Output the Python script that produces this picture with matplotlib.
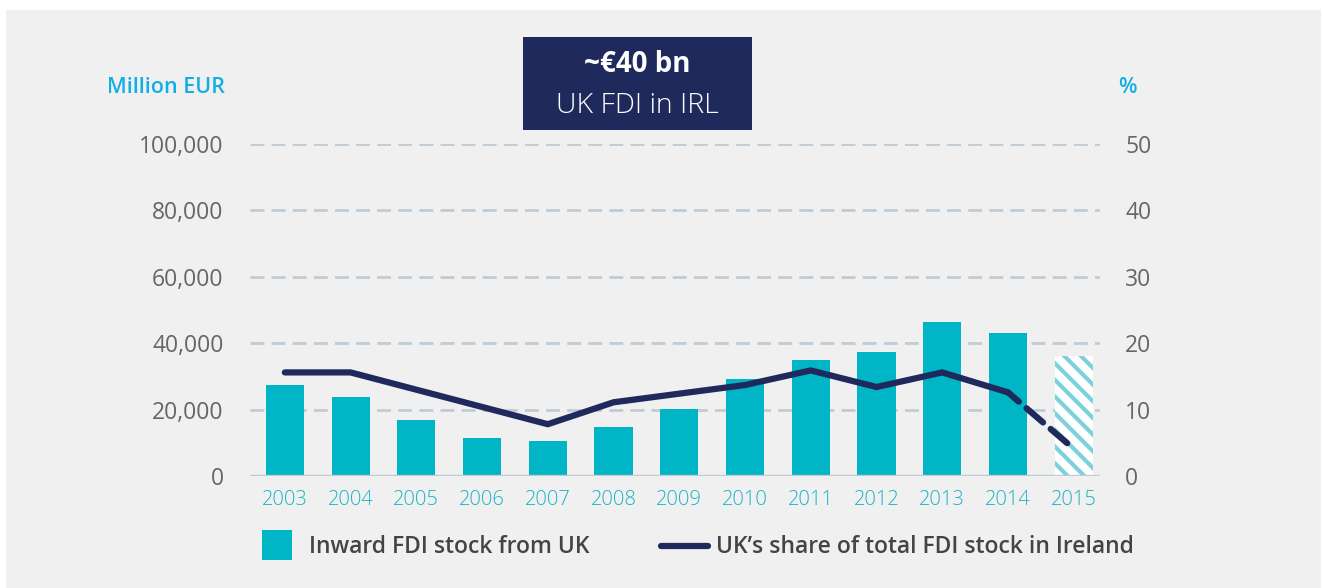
import matplotlib.pyplot as plt
import matplotlib.patches as mpatches
from matplotlib.lines import Line2D

# data
years = ['2003', '2004', '2005', '2006', '2007', '2008', '2009',
         '2010', '2011', '2012', '2013', '2014', '2015']
fdi_stock = [27400, 23800, 16900, 11400, 10500, 14800, 20200,
             29200, 34900, 37300, 46400, 43100, 36100]
uk_share = [15.6, 15.6, 13.0, 10.4, 7.8, 11.1, 12.4,
            13.7, 15.9, 13.4, 15.6, 12.6, 4.1]
left_ticks = [0, 20000, 40000, 60000, 80000, 100000]
right_ticks = [0, 10, 20, 30, 40, 50]

teal = '#00b6c6'
teal_light = '#7dd1d8'
navy = '#1f295b'
grey_txt = '#666666'
grid_col = '#bfcbd5'
blue_lbl = '#14aee6'

plt.rcParams['font.family'] = ['Open Sans', 'DejaVu Sans']
plt.rcParams['hatch.linewidth'] = 5.5

W, H = 1323, 588
fig = plt.figure(figsize=(W / 100, H / 100), dpi=100)
fig.patch.set_facecolor('white')
# grey panel behind everything
fig.patches.append(mpatches.Rectangle((6 / W, 0), 1315 / W, 578 / H,
                                      transform=fig.transFigure,
                                      facecolor='#f0f0f0', edgecolor='none',
                                      zorder=-10))

ax = fig.add_axes([250 / W, 112 / H, 850 / W, 332 / H])
ax.set_facecolor('none')
ax2 = ax.twinx()
ax2.set_facecolor('none')

x = list(range(len(years)))

# gridlines
for v in left_ticks[1:]:
    ax.axhline(v, color=grid_col, lw=2.0, linestyle=(0, (5.0, 2.6)), zorder=0)
ax.axhline(0, color=grid_col, lw=2.4, zorder=3)

# bars: last one is an estimate (hatched)
ax.bar(x[:-1], fdi_stock[:-1], width=0.58, color=teal, zorder=2)
ax.bar(x[-1], fdi_stock[-1], width=0.58, color=teal_light,
       edgecolor='white', linewidth=0, hatch='\\\\', zorder=2)

ax.set_xlim(-0.53, 12.4)
ax.set_ylim(0, 100000)
ax2.set_ylim(0, 50)

# share line, last segment dashed
ax2.plot(x[:-1], uk_share[:-1], color=navy, lw=4.5,
         solid_capstyle='round', solid_joinstyle='miter', zorder=4)
ax2.plot(x[-2:], uk_share[-2:], color=navy, lw=4.5,
         linestyle=(1.2, (3.5, 1.6)), dash_capstyle='round', zorder=4)

for a in (ax, ax2):
    for s in a.spines.values():
        s.set_visible(False)
    a.tick_params(length=0)

ax.set_xticks(x)
ax.set_xticklabels(years, color='#1ab4c8', fontsize=14.5, fontweight='light')
ax.tick_params(axis='x', pad=10)
ax.set_yticks(left_ticks)
ax.set_yticklabels([f'{v:,}' for v in left_ticks], color=grey_txt,
                   fontsize=16.5)
ax.tick_params(axis='y', pad=19)
ax2.set_yticks(right_ticks)
ax2.set_yticklabels([str(v) for v in right_ticks], color=grey_txt,
                    fontsize=16.5)
ax2.tick_params(axis='y', pad=18)

# axis unit labels
fig.text(225 / W, 1 - 88 / H, 'Million EUR', color=blue_lbl,
         fontsize=15.5, fontweight='semibold', ha='right', va='center')
fig.text(1118 / W, 1 - 88 / H, '%', color=blue_lbl,
         fontsize=15.5, fontweight='semibold', ha='left', va='center')

# callout box
fig.patches.append(mpatches.Rectangle((523 / W, 1 - 130 / H),
                                      229 / W, 93 / H,
                                      transform=fig.transFigure,
                                      facecolor=navy, edgecolor='none'))
fig.text(637 / W, 1 - 64 / H, '~€40 bn', color='white', fontsize=20,
         fontweight='bold', ha='center', va='center')
fig.text(637 / W, 1 - 106 / H, 'UK FDI in IRL', color='white',
         fontsize=20.5, fontweight='light', ha='center', va='center')

# legend, placed by hand
fig.patches.append(mpatches.Rectangle((262 / W, 1 - 560 / H), 30 / W, 30 / H,
                                      transform=fig.transFigure,
                                      facecolor=teal, edgecolor='none'))
fig.text(309 / W, 1 - 547 / H, 'Inward FDI stock from UK', color='#444444',
         fontsize=16.5, fontweight='semibold', ha='left', va='center')
fig.lines.append(Line2D([661 / W, 708 / W], [1 - 546 / H, 1 - 546 / H],
                        transform=fig.transFigure, color=navy, lw=4.5,
                        solid_capstyle='round'))
fig.text(716 / W, 1 - 547 / H, 'UK\u2019s share of total FDI stock in Ireland',
         color='#444444', fontsize=16.5, fontweight='semibold',
         ha='left', va='center')

fig.savefig('out.png', dpi=100, facecolor=fig.get_facecolor())
